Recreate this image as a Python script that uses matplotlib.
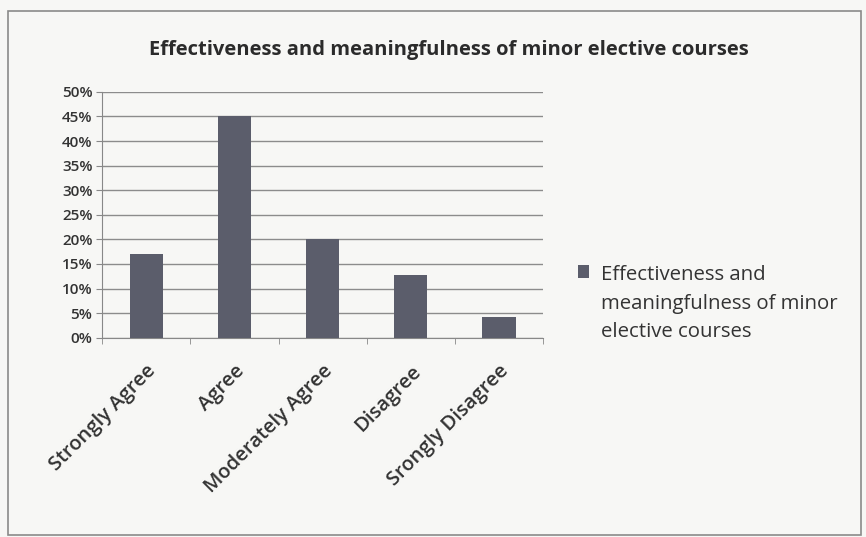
import numpy as np
import matplotlib.pyplot as plt
from matplotlib.ticker import PercentFormatter, FixedLocator
from matplotlib.patches import Rectangle

categories = ["Strongly Agree", "Agree", "Moderately Agree", "Disagree", "Srongly Disagree"]
values = [0.17, 0.45, 0.20, 0.128, 0.043]
series_name = "Effectiveness and\nmeaningfulness of minor\nelective courses"
title = "Effectiveness and meaningfulness of minor elective courses"

plt.rcParams['font.family'] = ['Open Sans', 'DejaVu Sans']

fig = plt.figure(figsize=(8.66, 5.37), dpi=100)
fig.patch.set_facecolor('#f7f7f5')

# outer chart border
fig.add_artist(Rectangle((0.009, 0.004), 0.985, 0.975, transform=fig.transFigure,
                         fill=False, edgecolor='#8a8a8a', linewidth=1.2))

ax = fig.add_axes([0.118, 0.371, 0.509, 0.458])
ax.set_facecolor('none')

x = np.arange(len(categories))
ax.bar(x, values, width=0.38, color='#5b5d6b', label=series_name, zorder=3)

ax.set_xlim(-0.5, len(categories) - 0.5)
ax.set_ylim(0, 0.5)
ax.yaxis.set_major_locator(FixedLocator(np.arange(0, 0.51, 0.05)))
ax.yaxis.set_major_formatter(PercentFormatter(1.0, decimals=0))
ax.grid(axis='y', color='#8c8c8c', linewidth=1.0, zorder=0)

ax.set_xticks(x)
ax.set_xticklabels(categories, rotation=45, ha='right', rotation_mode='anchor')
ax.xaxis.set_minor_locator(FixedLocator(np.arange(-0.5, len(categories), 1.0)))
ax.tick_params(axis='x', which='major', length=0, pad=17, labelsize=14.5, labelcolor='#333333')
ax.tick_params(axis='x', which='minor', length=4, color='#888888', direction='out')
ax.tick_params(axis='y', length=4, color='#888888', labelsize=11, labelcolor='#333333', pad=3)
for lbl in ax.get_xticklabels():
    lbl.set_fontweight('semibold')
for lbl in ax.get_yticklabels():
    lbl.set_fontweight('semibold')

for side in ['top', 'right']:
    ax.spines[side].set_visible(False)
ax.spines['left'].set_color('#888888')
ax.spines['bottom'].set_color('#888888')

fig.text(0.518, 0.907, title, ha='center', va='center', fontsize=14.5,
         fontweight='bold', color='#2b2b2b')

leg = fig.legend(loc='upper left', bbox_to_anchor=(0.646, 0.54), frameon=False,
                 fontsize=14.7, handlelength=0.55, handleheight=0.55, handletextpad=0.6,
                 labelcolor='#333333')
leg.get_texts()[0].set_linespacing(1.55)
# put the legend square beside the first line of the label
for col in leg._legend_handle_box.get_children():
    for item in col.get_children():
        item.align = 'top'

fig.savefig('out.png', dpi=100, facecolor=fig.get_facecolor())
